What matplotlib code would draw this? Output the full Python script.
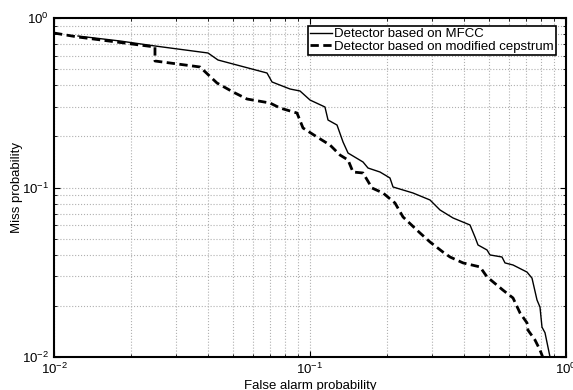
import numpy as np
import matplotlib
matplotlib.use('Agg')
import matplotlib.pyplot as plt

plt.rcParams['font.family'] = ['Liberation Sans', 'DejaVu Sans']
plt.rcParams['mathtext.fontset'] = 'custom'
plt.rcParams['mathtext.rm'] = 'Liberation Sans'
plt.rcParams['mathtext.it'] = 'Liberation Sans:italic'
plt.rcParams['mathtext.bf'] = 'Liberation Sans:bold'

# false alarm / miss probabilities
fa_mfcc = [0.01241, 0.01811, 0.02480, 0.03996, 0.04371, 0.06792, 0.07107, 0.08353,
           0.09141, 0.1, 0.1144, 0.1176, 0.1275, 0.1346, 0.1408, 0.1611, 0.1685,
           0.1877, 0.2053, 0.2110, 0.2526, 0.2943, 0.3219, 0.3620, 0.4217, 0.4411,
           0.4532, 0.4914, 0.5048, 0.5623, 0.5777, 0.6209, 0.7041, 0.7365, 0.7704,
           0.7914, 0.8058, 0.8279, 0.8660]
miss_mfcc = [0.7829, 0.7316, 0.6837, 0.6216, 0.5652, 0.4737, 0.4193, 0.3812,
             0.3710, 0.3282, 0.2985, 0.2501, 0.2337, 0.1855, 0.1597, 0.1414, 0.1303,
             0.1234, 0.1138, 0.1007, 0.0928, 0.0844, 0.0737, 0.0661, 0.0601, 0.0510,
             0.0458, 0.0428, 0.0400, 0.0389, 0.0359, 0.0349, 0.0317, 0.0292, 0.0217,
             0.0197, 0.0150, 0.0139, 0.0100]

fa_ceps = [0.0100, 0.01241, 0.02480, 0.02480, 0.03718, 0.04332, 0.05004, 0.05674,
           0.06980, 0.07637, 0.08897, 0.09391, 0.1065, 0.1197, 0.1310, 0.1408,
           0.1472, 0.1611, 0.1747, 0.1929, 0.2148, 0.2309, 0.2690, 0.2943, 0.3307,
           0.3524, 0.3961, 0.4614, 0.4914, 0.5674, 0.6209, 0.6612, 0.7041, 0.7104,
           0.7567, 0.7914, 0.8131]
miss_ceps = [0.8155, 0.7724, 0.6745, 0.5576, 0.5141, 0.4136, 0.3660, 0.3327,
             0.3151, 0.2944, 0.2750, 0.2244, 0.1986, 0.1781, 0.1554, 0.1453,
             0.1234, 0.1218, 0.0993, 0.0928, 0.0810, 0.0670, 0.0539, 0.0477, 0.0416,
             0.0389, 0.0359, 0.0340, 0.0297, 0.0248, 0.0223, 0.0182, 0.0159, 0.0144,
             0.0126, 0.0110, 0.0099]

fig = plt.figure(figsize=(5.73, 3.90), dpi=100)
ax = fig.add_axes([54/573, 33/390, 512/573, 339/390])

ax.loglog(fa_mfcc, miss_mfcc, 'k-', lw=1.0, label='Detector based on MFCC')
ax.loglog(fa_ceps, miss_ceps, 'k--', lw=2.0, dashes=(3, 1.6),
          label='Detector based on modified cepstrum')

ax.set_xlim(1e-2, 1)
ax.set_ylim(1e-2, 1)
ax.grid(True, which='both', color='#b0b0b0', linestyle=':', linewidth=0.8)
ax.tick_params(which='both', direction='in', top=True, right=True, labelsize=9.5)
ax.tick_params(which='major', length=4)
ax.tick_params(which='minor', length=2)
for s in ax.spines.values():
    s.set_linewidth(1.5)

ax.set_xlabel('False alarm probability', fontsize=9.5, labelpad=2)
ax.set_ylabel('Miss probability', fontsize=9.5, labelpad=-1)

leg = ax.legend(loc='upper right', fontsize=9.5, fancybox=False, framealpha=1,
                edgecolor='k', handlelength=1.7, handletextpad=0.15,
                borderpad=0.15, labelspacing=0.05, borderaxespad=0,
                bbox_to_anchor=(556/573, 1 - 26/390), bbox_transform=fig.transFigure)
leg.get_frame().set_linewidth(1.2)

fig.savefig('out.png', dpi=100)
